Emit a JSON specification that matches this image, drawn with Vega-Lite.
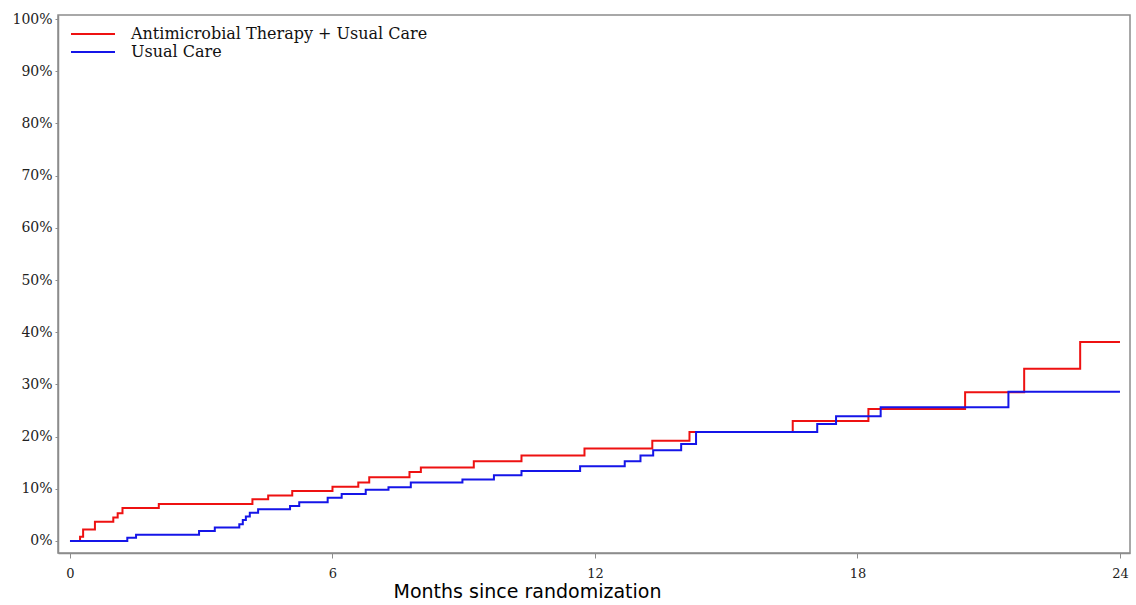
{
  "$schema": "https://vega.github.io/schema/vega-lite/v6.json",
  "width": 1072,
  "height": 538,
  "autosize": "none",
  "padding": {"left": 58, "top": 15, "right": 6, "bottom": 52},
  "background": "white",
  "config": {
    "view": {"stroke": "#8c8c8c", "strokeWidth": 1.5},
    "axis": {"grid": false}
  },
  "data": {
    "values": [
      {"group": "Antimicrobial Therapy + Usual Care", "month": 0, "pct": 0},
      {"group": "Antimicrobial Therapy + Usual Care", "month": 0.23, "pct": 0.8},
      {"group": "Antimicrobial Therapy + Usual Care", "month": 0.30, "pct": 2.2},
      {"group": "Antimicrobial Therapy + Usual Care", "month": 0.57, "pct": 3.7},
      {"group": "Antimicrobial Therapy + Usual Care", "month": 0.99, "pct": 4.5},
      {"group": "Antimicrobial Therapy + Usual Care", "month": 1.09, "pct": 5.3},
      {"group": "Antimicrobial Therapy + Usual Care", "month": 1.20, "pct": 6.3},
      {"group": "Antimicrobial Therapy + Usual Care", "month": 2.03, "pct": 7.1},
      {"group": "Antimicrobial Therapy + Usual Care", "month": 4.17, "pct": 8.0},
      {"group": "Antimicrobial Therapy + Usual Care", "month": 4.53, "pct": 8.7},
      {"group": "Antimicrobial Therapy + Usual Care", "month": 5.08, "pct": 9.6},
      {"group": "Antimicrobial Therapy + Usual Care", "month": 6.00, "pct": 10.4},
      {"group": "Antimicrobial Therapy + Usual Care", "month": 6.59, "pct": 11.2},
      {"group": "Antimicrobial Therapy + Usual Care", "month": 6.84, "pct": 12.2},
      {"group": "Antimicrobial Therapy + Usual Care", "month": 7.76, "pct": 13.2},
      {"group": "Antimicrobial Therapy + Usual Care", "month": 8.02, "pct": 14.1},
      {"group": "Antimicrobial Therapy + Usual Care", "month": 9.23, "pct": 15.3},
      {"group": "Antimicrobial Therapy + Usual Care", "month": 10.32, "pct": 16.4},
      {"group": "Antimicrobial Therapy + Usual Care", "month": 11.76, "pct": 17.7},
      {"group": "Antimicrobial Therapy + Usual Care", "month": 13.31, "pct": 19.2},
      {"group": "Antimicrobial Therapy + Usual Care", "month": 14.16, "pct": 20.9},
      {"group": "Antimicrobial Therapy + Usual Care", "month": 16.52, "pct": 23.0},
      {"group": "Antimicrobial Therapy + Usual Care", "month": 18.25, "pct": 25.3},
      {"group": "Antimicrobial Therapy + Usual Care", "month": 20.46, "pct": 28.5},
      {"group": "Antimicrobial Therapy + Usual Care", "month": 21.81, "pct": 33.0},
      {"group": "Antimicrobial Therapy + Usual Care", "month": 23.09, "pct": 38.1},
      {"group": "Antimicrobial Therapy + Usual Care", "month": 24.0, "pct": 38.1},
      {"group": "Usual Care", "month": 0, "pct": 0},
      {"group": "Usual Care", "month": 1.31, "pct": 0.6},
      {"group": "Usual Care", "month": 1.51, "pct": 1.2},
      {"group": "Usual Care", "month": 2.95, "pct": 1.9},
      {"group": "Usual Care", "month": 3.31, "pct": 2.6},
      {"group": "Usual Care", "month": 3.87, "pct": 3.2},
      {"group": "Usual Care", "month": 3.95, "pct": 4.0},
      {"group": "Usual Care", "month": 4.02, "pct": 4.7},
      {"group": "Usual Care", "month": 4.11, "pct": 5.4},
      {"group": "Usual Care", "month": 4.30, "pct": 6.1},
      {"group": "Usual Care", "month": 5.03, "pct": 6.7},
      {"group": "Usual Care", "month": 5.24, "pct": 7.4},
      {"group": "Usual Care", "month": 5.89, "pct": 8.3},
      {"group": "Usual Care", "month": 6.21, "pct": 9.0},
      {"group": "Usual Care", "month": 6.76, "pct": 9.8},
      {"group": "Usual Care", "month": 7.28, "pct": 10.3},
      {"group": "Usual Care", "month": 7.79, "pct": 11.2},
      {"group": "Usual Care", "month": 8.97, "pct": 11.8},
      {"group": "Usual Care", "month": 9.69, "pct": 12.6},
      {"group": "Usual Care", "month": 10.32, "pct": 13.4},
      {"group": "Usual Care", "month": 11.66, "pct": 14.3},
      {"group": "Usual Care", "month": 12.68, "pct": 15.3},
      {"group": "Usual Care", "month": 13.04, "pct": 16.4},
      {"group": "Usual Care", "month": 13.33, "pct": 17.4},
      {"group": "Usual Care", "month": 13.97, "pct": 18.6},
      {"group": "Usual Care", "month": 14.31, "pct": 20.9},
      {"group": "Usual Care", "month": 17.08, "pct": 22.4},
      {"group": "Usual Care", "month": 17.51, "pct": 23.9},
      {"group": "Usual Care", "month": 18.53, "pct": 25.6},
      {"group": "Usual Care", "month": 21.45, "pct": 28.6},
      {"group": "Usual Care", "month": 24.0, "pct": 28.6}
    ]
  },
  "mark": {"type": "line", "interpolate": "step-after", "strokeWidth": 2},
  "encoding": {
    "x": {
      "field": "month",
      "type": "quantitative",
      "scale": {"domain": [-0.274, 24.229], "nice": false, "zero": false},
      "axis": {
        "values": [0, 6, 12, 18, 24],
        "title": "Months since randomization",
        "titleFont": "DejaVu Sans",
        "titleFontSize": 19,
        "titleFontWeight": "normal",
        "titleColor": "black",
        "titleX": 469,
        "titleY": 44,
        "titleAlign": "center",
        "titleBaseline": "alphabetic",
        "labelFont": "DejaVu Serif",
        "labelFontSize": 13,
        "labelColor": "#222222",
        "labelPadding": 9,
        "labelFlush": false,
        "tickSize": 5,
        "tickColor": "#8c8c8c",
        "domainColor": "#8c8c8c",
        "domainWidth": 1.5
      }
    },
    "y": {
      "field": "pct",
      "type": "quantitative",
      "scale": {"domain": [-2.3, 100.77], "nice": false, "zero": false},
      "axis": {
        "values": [0, 10, 20, 30, 40, 50, 60, 70, 80, 90, 100],
        "labelExpr": "datum.value + '%'",
        "title": null,
        "labelFont": "DejaVu Serif",
        "labelFontSize": 14,
        "labelColor": "#222222",
        "labelPadding": 3,
        "tickSize": 3,
        "tickColor": "#8c8c8c",
        "domainColor": "#8c8c8c",
        "domainWidth": 1.5
      }
    },
    "color": {
      "field": "group",
      "type": "nominal",
      "scale": {
        "domain": ["Antimicrobial Therapy + Usual Care", "Usual Care"],
        "range": ["#ee1111", "#1515e8"]
      },
      "legend": {
        "title": null,
        "orient": "none",
        "legendX": 27,
        "legendY": 11,
        "symbolType": "M-4,0H4",
        "symbolSize": 121,
        "symbolStrokeWidth": 2,
        "labelFont": "DejaVu Serif",
        "labelFontSize": 16,
        "labelColor": "#111111",
        "labelLimit": 500,
        "labelOffset": 30,
        "rowPadding": 2,
        "padding": 0
      }
    }
  }
}
